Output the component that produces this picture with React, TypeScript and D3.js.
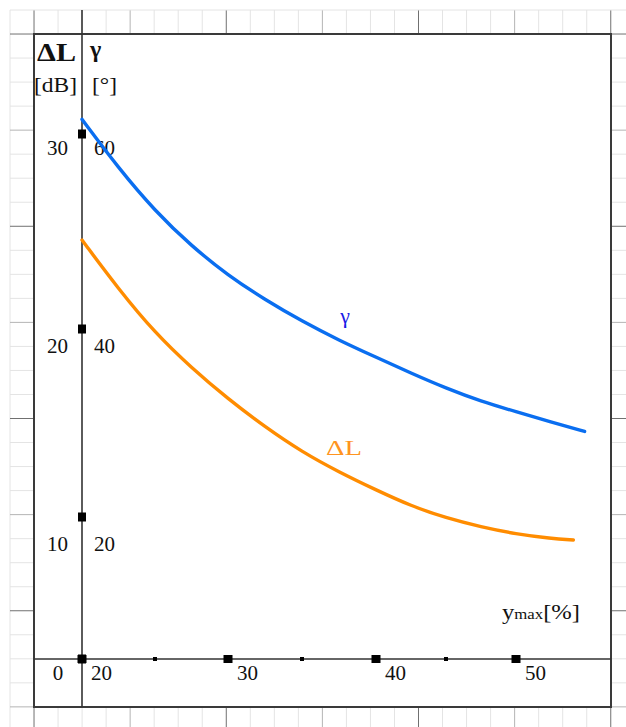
import * as d3 from "d3";

// y_max [%] sample positions along each curve
const gammaX = [20, 22.5, 25, 27.5, 30, 32.5, 35, 37.5, 40, 42.5, 45, 47.5, 50, 52.5, 54.9];
const gammaVals = [61.5, 56.5, 52.1, 48.5, 45.5, 43.0, 40.8, 38.8, 37.0, 35.3, 33.7, 32.3, 31.2, 30.1, 29.1];
const deltaX = [20, 22.5, 25, 27.5, 30, 32.5, 35, 37.5, 40, 42.5, 45, 47.5, 50, 52.5, 54.1];
const deltaVals = [24.56, 22.05, 19.79, 17.93, 16.28, 14.79, 13.46, 12.39, 11.44, 10.59, 9.93, 9.3, 8.8, 8.49, 8.38];

const xMajor = [20, 30, 40, 50];
const xMinor = [25, 35, 45];
const dLTicks = [0, 10, 20, 30];
const gammaLabels = ["", "20", "40", "60"];

const W = 626;
const H = 727;
const frame = { left: 34, top: 34, right: 611, bottom: 707 };
const pitch = 24.03;

export default function App() {
  // the original axis is not evenly spaced, so the scales are piecewise
  const x = d3.scaleLinear().domain([20, 30, 40, 50]).range([82, 228, 376, 516]);
  const y = d3.scaleLinear().domain([0, 10, 20, 30]).range([659, 517, 329, 134]);
  const yG = d3.scaleLinear().domain([0, 20, 40, 60]).range([659, 517, 329, 134]);
  // labels sit on their own even spacing below the ticks
  const yLab = d3.scaleLinear().domain([10, 30]).range([551, 155]);

  const line = d3.line<[number, number]>().curve(d3.curveBasis);
  const gammaPath = line(gammaX.map((v, i) => [x(v), yG(gammaVals[i])]));
  const deltaPath = line(deltaX.map((v, i) => [x(v), y(deltaVals[i])]));

  const cols = d3.range(0, Math.ceil((W - 10) / pitch) + 1);
  const rows = d3.range(0, Math.ceil((H - 10) / pitch) + 1);
  const gridColor = (k: number) =>
    (k - 1) % 8 === 0 ? "#707070" : (k - 1) % 4 === 0 ? "#b4b4b4" : "#e4e4e4";

  const x0 = x(20);
  const y0 = y(0);
  const font = "'Liberation Serif', 'Times New Roman', serif";

  return (
    <svg width={W} height={H} style={{ position: "absolute", left: 0, top: 0, background: "#fff" }} fontFamily={font}>
      {/* graph paper */}
      <g>
        {cols.map((k) => (
          <line key={"c" + k} x1={10 + k * pitch} x2={10 + k * pitch} y1={10} y2={H}
            stroke={gridColor(k)} strokeWidth={1} />
        ))}
        {rows.map((k) => (
          <line key={"r" + k} x1={10} x2={W} y1={10 + k * pitch} y2={10 + k * pitch}
            stroke={gridColor(k)} strokeWidth={1} />
        ))}
      </g>
      <rect x={frame.left} y={frame.top} width={frame.right - frame.left} height={frame.bottom - frame.top}
        fill="#fff" stroke="#3a3a3a" strokeWidth={2} />

      {/* axes */}
      <line x1={x0} x2={x0} y1={10} y2={frame.bottom} stroke="#333" strokeWidth={1.6} />
      <line x1={frame.left} x2={frame.right} y1={y0} y2={y0} stroke="#333" strokeWidth={1.6} />

      {dLTicks.map((t) => (
        <rect key={"yt" + t} x={x0 - 4} y={y(t) - 4.5} width={8} height={9} fill="#000" />
      ))}
      {xMajor.map((t) => (
        <rect key={"xt" + t} x={x(t) - 4.5} y={y0 - 4} width={9} height={8} fill="#000" />
      ))}
      {xMinor.map((t) => (
        <rect key={"xm" + t} x={x(t) - 2} y={y0 - 2} width={4} height={4} fill="#000" />
      ))}

      {/* tick labels */}
      <g fontSize={21} fill="#111">
        {dLTicks.map((t) => (
          <text key={"yl" + t} x={t === 0 ? 58 : 68} y={t === 0 ? 680 : yLab(t)}
            textAnchor={t === 0 ? "middle" : "end"}>{t}</text>
        ))}
        {dLTicks.map((t, i) =>
          gammaLabels[i] ? (
            <text key={"gl" + t} x={x0 + 12} y={yLab(t)}>{gammaLabels[i]}</text>
          ) : null
        )}
        {xMajor.map((t) => (
          <text key={"xl" + t} x={x(t) + 9} y={680}>{t}</text>
        ))}
      </g>

      {/* headers */}
      <text x={37} y={61} fontSize={25} fontWeight="bold" fill="#111" textLength={39} lengthAdjust="spacingAndGlyphs">ΔL</text>
      <text x={90} y={57} fontSize={24} fontWeight="bold" fill="#111">γ</text>
      <text x={34} y={92} fontSize={21} fill="#111" textLength={43} lengthAdjust="spacingAndGlyphs">[dB]</text>
      <text x={92} y={92} fontSize={21} fill="#111" textLength={25} lengthAdjust="spacingAndGlyphs">[°]</text>

      <text x={502} y={619} fontSize={22} fill="#111" textLength={78} lengthAdjust="spacingAndGlyphs">
        y<tspan fontSize={15}>max</tspan>[%]
      </text>

      {/* curves */}
      <path d={gammaPath ?? ""} fill="none" stroke="#0a6ef0" strokeWidth={3.4} strokeLinecap="round" />
      <path d={deltaPath ?? ""} fill="none" stroke="#ff8c00" strokeWidth={3.4} strokeLinecap="round" />

      <text x={345} y={323} fontSize={22} fill="#1a1ae6" textAnchor="middle">γ</text>
      <text x={344} y={455} fontSize={21} fill="#ff9420" textAnchor="middle" textLength={36} lengthAdjust="spacingAndGlyphs">ΔL</text>
    </svg>
  );
}
